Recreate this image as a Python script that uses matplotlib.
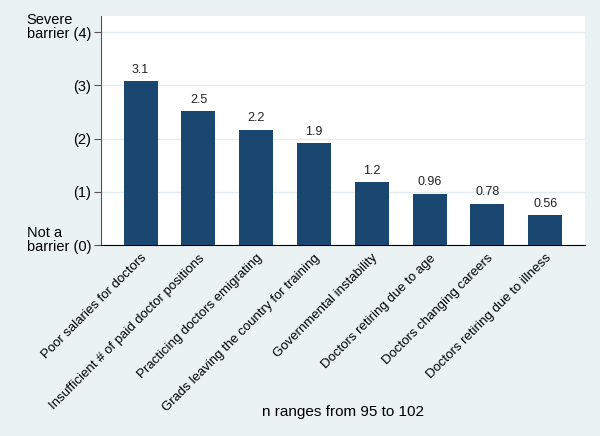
import matplotlib

matplotlib.use("Agg")
import matplotlib.pyplot as plt
import numpy as np

barriers = [
    "Poor salaries for doctors",
    "Insufficient # of paid doctor positions",
    "Practicing doctors emigrating",
    "Grads leaving the country for training",
    "Governmental instability",
    "Doctors retiring due to age",
    "Doctors changing careers",
    "Doctors retiring due to illness",
]
mean_scores = [3.08, 2.51, 2.16, 1.91, 1.18, 0.96, 0.78, 0.56]
y_ticks = [0, 1, 2, 3, 4]
y_tick_labels = ["barrier (0)", "(1)", "(2)", "(3)", "barrier (4)"]
caption = "n ranges from 95 to 102"

BG = "#eaf2f3"
BAR = "#1a476f"

plt.rcParams["font.family"] = ["Liberation Sans", "DejaVu Sans"]

fig = plt.figure(figsize=(6.0, 4.36), dpi=100, facecolor=BG)
ax = fig.add_axes([0.168, 0.438, 0.807, 0.525])
ax.set_facecolor("white")

x = np.arange(len(barriers))
ax.bar(x, mean_scores, width=0.59, color=BAR, zorder=3)
for xi, v in zip(x, mean_scores):
    ax.annotate(f"{v:.2g}", (xi, v), xytext=(0, 4), textcoords="offset points",
                ha="center", va="bottom", fontsize=9, color="#222222")

ax.set_xlim(-0.69, len(barriers) - 1 + 0.69)
ax.set_ylim(0, 4.3)
ax.set_yticks(y_ticks)
ax.set_yticklabels(y_tick_labels, fontsize=10.5)
ax.yaxis.grid(True, color="#e3ecee", linewidth=1, zorder=0)
ax.tick_params(axis="y", length=5, color="#555555", pad=2)

ax.set_xticks(x)
ax.set_xticklabels(barriers, rotation=45, ha="right", rotation_mode="anchor",
                   fontsize=9.5)
ax.tick_params(axis="x", length=0, pad=5)

for side in ("top", "right"):
    ax.spines[side].set_visible(False)
ax.spines["left"].set_color("#555555")
ax.spines["bottom"].set_color("black")

# extra first lines above the end tick labels, left aligned with them
labels = ax.get_yticklabels()
for lbl, word in ((labels[4], "Severe"), (labels[0], "Not a")):
    ax.annotate(word, xy=(0, 1), xycoords=lbl, ha="left", va="bottom",
                fontsize=10.5)

fig.text(0.572, 0.047, caption, ha="center", va="baseline", fontsize=11)

fig.savefig("out.png", dpi=100, facecolor=BG)
